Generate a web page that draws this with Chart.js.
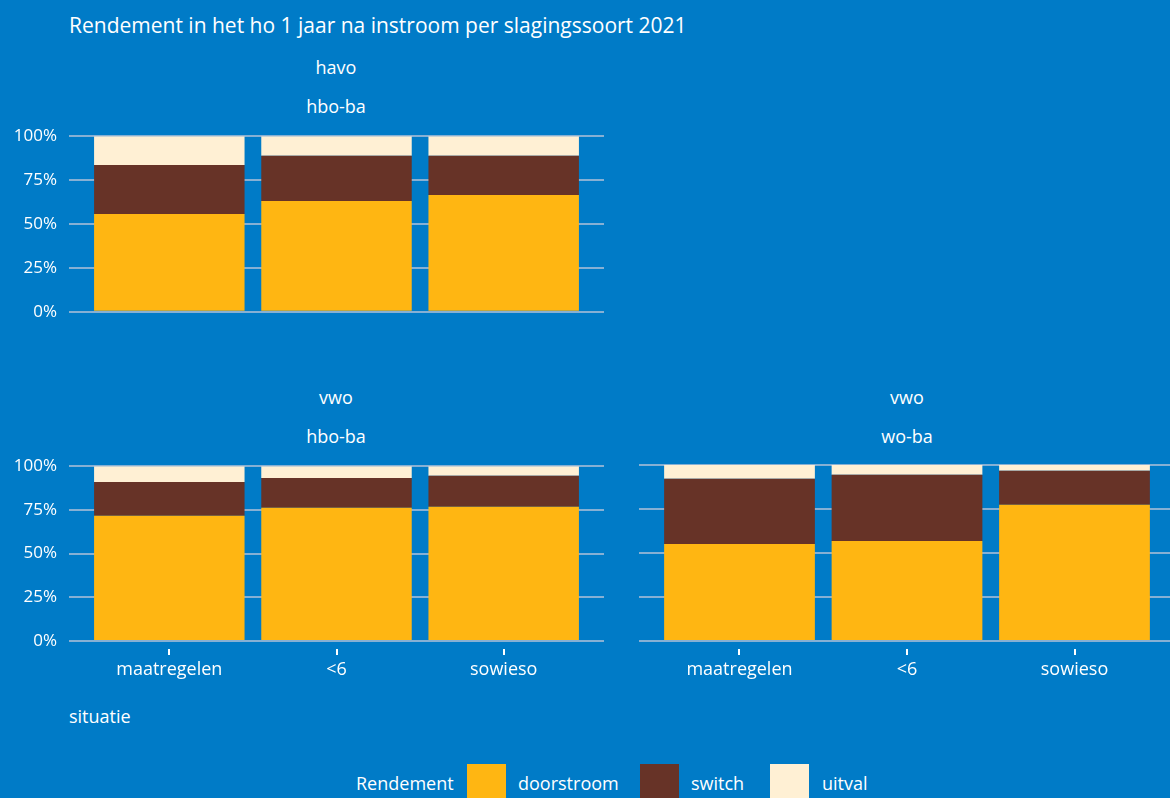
<!DOCTYPE html>
<html>
<head>
<meta charset="utf-8">
<script src="https://cdn.jsdelivr.net/npm/chart.js@4"></script>
<style>
    html, body {
        margin: 0;
        padding: 0;
        width: 1170px;
        height: 798px;
        overflow: hidden;
        background: #007bc7;
        font-family: "Open Sans", Lato, sans-serif;
        color: #ffffff;
    }

    .txt {
        position: absolute;
        white-space: nowrap;
        line-height: 1;
    }

    .mid {
        transform: translate(-50%, -50%);
    }

    .left {
        transform: translate(0, -50%);
    }

    .panel {
        position: absolute;
    }

    .box {
        position: absolute;
        width: 39px;
        height: 38px;
        top: 764px;
    }
</style>
</head>
<body>

<div class="txt left" style="left:69px; top:25px; font-size:21px;">Rendement in het ho 1 jaar na instroom per slagingssoort 2021</div>

<div class="txt mid" style="left:336px; top:67px; font-size:18px;">havo</div>
<div class="txt mid" style="left:336px; top:106px; font-size:18px;">hbo-ba</div>

<div class="txt mid" style="left:336px; top:397px; font-size:18px;">vwo</div>
<div class="txt mid" style="left:336px; top:436px; font-size:18px;">hbo-ba</div>

<div class="txt mid" style="left:907px; top:397px; font-size:18px;">vwo</div>
<div class="txt mid" style="left:907px; top:436px; font-size:18px;">wo-ba</div>

<div class="panel" style="left:0px; top:114px; width:610px; height:220px;">
    <canvas id="havoHbo"></canvas>
</div>

<div class="panel" style="left:0px; top:444px; width:610px; height:256px;">
    <canvas id="vwoHbo"></canvas>
</div>

<div class="panel" style="left:620px; top:450px; width:555px; height:250px;">
    <canvas id="vwoWo"></canvas>
</div>

<div class="txt left" style="left:69px; top:716px; font-size:18px;">situatie</div>

<div class="txt left" style="left:356px; top:783px; font-size:18px;">Rendement</div>
<div class="box" style="left:467px; background:#ffb612;"></div>
<div class="txt left" style="left:518px; top:783px; font-size:18px;">doorstroom</div>
<div class="box" style="left:640px; background:#673327;"></div>
<div class="txt left" style="left:691px; top:783px; font-size:18px;">switch</div>
<div class="box" style="left:770px; background:#fff0d4;"></div>
<div class="txt left" style="left:822px; top:783px; font-size:18px;">uitval</div>

<script>

const situaties = ["maatregelen", "<6", "sowieso"];
const yTicks = [0, 25, 50, 75, 100];
const rendementLabels = ["doorstroom", "switch", "uitval"];

// havo -> hbo-ba
const havoHboDoorstroom = [55.7, 63.1, 66.5];
const havoHboSwitch = [27.9, 25.7, 22.3];
const havoHboUitval = [16.4, 11.2, 11.2];

// vwo -> hbo-ba
const vwoHboDoorstroom = [71.7, 76.2, 76.8];
const vwoHboSwitch = [19.3, 17.1, 17.7];
const vwoHboUitval = [9.0, 6.7, 5.5];

// vwo -> wo-ba
const vwoWoDoorstroom = [55.1, 56.8, 77.4];
const vwoWoSwitch = [37.1, 37.7, 19.4];
const vwoWoUitval = [7.8, 5.5, 3.2];

const colors = ["#ffb612", "#673327", "#fff0d4"];
const gridColor = "#86b0d4";
const textColor = "#ffffff";

Chart.defaults.font.family = "'Open Sans', Lato, sans-serif";
Chart.defaults.color = textColor;

function toPoints(values) {

    return values.map(function (v, i) {
        return { x: i + 1, y: v };
    });

}

// small tick marks under the panel, with a gap like the original
const tickMarks = {

    id: "tickMarks",

    afterDraw(chart, args, opts) {

        if (!opts.show) {
            return;
        }

        const ctx = chart.ctx;
        const xScale = chart.scales.x;
        const bottom = chart.chartArea.bottom;

        ctx.save();
        ctx.strokeStyle = textColor;
        ctx.lineWidth = 2;

        situaties.forEach(function (s, i) {
            const px = Math.round(xScale.getPixelForValue(i + 1));
            ctx.beginPath();
            ctx.moveTo(px, bottom + 8);
            ctx.lineTo(px, bottom + 14);
            ctx.stroke();
        });

        ctx.restore();

    }

};

function drawPanel(id, series, opts) {

    const ctx = document.getElementById(id).getContext("2d");

    return new Chart(ctx, {

        type: "bar",

        data: {

            datasets: series.map(function (values, i) {

                return {
                    label: rendementLabels[i],
                    data: toPoints(values),
                    backgroundColor: colors[i],
                    borderWidth: 0,
                    categoryPercentage: 1,
                    barPercentage: 0.9
                };

            })

        },

        options: {

            responsive: true,
            maintainAspectRatio: false,
            animation: false,

            layout: {
                padding: opts.padding
            },

            plugins: {
                legend: { display: false },
                tooltip: { enabled: false },
                tickMarks: { show: opts.showX }
            },

            scales: {

                x: {
                    type: "linear",
                    stacked: true,
                    offset: false,
                    min: 0.4,
                    max: 3.6,
                    display: opts.showX,
                    grid: { display: false },
                    border: { display: false },
                    afterBuildTicks(scale) {
                        scale.ticks = situaties.map(function (s, i) {
                            return { value: i + 1 };
                        });
                    },
                    afterFit(scale) {
                        if (opts.showX) {
                            scale.height = opts.xHeight;
                        }
                    },
                    ticks: {
                        padding: 10,
                        maxRotation: 0,
                        font: { size: 18 },
                        color: textColor,
                        callback(value) {
                            return situaties[value - 1];
                        }
                    }
                },

                y: {
                    stacked: true,
                    min: 0,
                    max: 100,
                    grid: {
                        color: gridColor,
                        lineWidth: 2,
                        drawTicks: false
                    },
                    border: { display: false },
                    afterBuildTicks(scale) {
                        scale.ticks = yTicks.map(function (v) {
                            return { value: v };
                        });
                    },
                    afterFit(scale) {
                        scale.width = opts.yWidth;
                    },
                    ticks: {
                        display: opts.showY,
                        padding: 12,
                        font: { size: 17 },
                        color: textColor,
                        callback(value) {
                            return value + "%";
                        }
                    }
                }

            }

        },

        plugins: [tickMarks]

    });

}

drawPanel("havoHbo", [havoHboDoorstroom, havoHboSwitch, havoHboUitval], {
    padding: { top: 8, bottom: 0, left: 0, right: 6 },
    showX: false,
    showY: true,
    yWidth: 69,
    xHeight: 0
});

drawPanel("vwoHbo", [vwoHboDoorstroom, vwoHboSwitch, vwoHboUitval], {
    padding: { top: 8, bottom: 0, left: 0, right: 6 },
    showX: true,
    showY: true,
    yWidth: 69,
    xHeight: 59
});

drawPanel("vwoWo", [vwoWoDoorstroom, vwoWoSwitch, vwoWoUitval], {
    padding: { top: 15, bottom: 0, left: 0, right: 0 },
    showX: true,
    showY: false,
    yWidth: 19,
    xHeight: 59
});

</script>
</body>
</html>
